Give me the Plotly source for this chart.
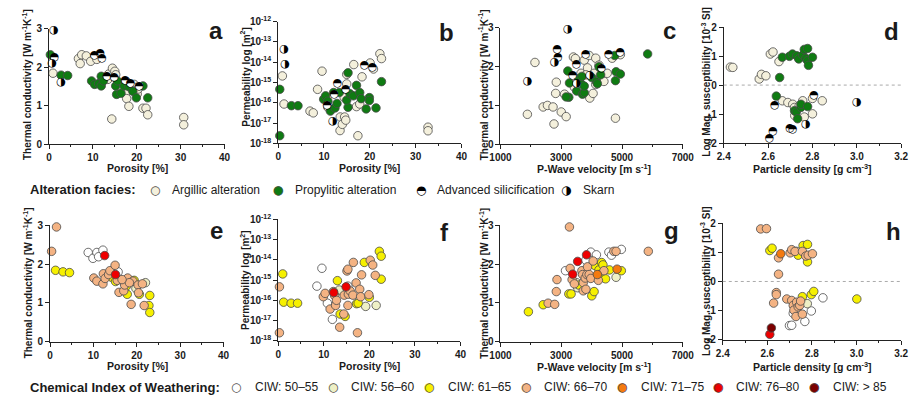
import plotly.graph_objects as go

W, H = 921, 402
FONT = "Liberation Sans, Arial, sans-serif"

# ---------------- data ----------------
# a: Porosity [%] vs thermal conductivity, alteration facies (A argillic, P propylitic, S adv. silicification, K skarn)
a_por = [1.1, 1.27, 0.67, 0.9, 0.3, 2.76, 2.76, 4.25, 6.7, 7.45, 7.1, 8.5, 9.5, 10.4, 10.9, 11.7, 12.1,
         9.7, 10.4, 11.3, 11.9, 11.9, 12.4, 13.2, 13.6, 13.4, 14.3, 14.45, 14.9, 15.0, 15.2, 15.4, 15.6, 15.2,
         16.4, 16.5, 17.1, 17.4, 17.7, 17.4, 17.7, 18.2, 18.2, 18.6, 19.1, 19.4, 19.9, 20.1, 19.9, 20.6, 21.4,
         21.4, 22.1, 22.5, 22.5, 20.3, 30.7, 30.7]
a_tc = [2.97, 2.26, 2.1, 1.85, 2.33, 1.62, 1.8, 1.79, 2.23, 2.33, 2.1, 2.3, 2.16, 2.31, 2.21, 2.38, 2.25,
        1.65, 1.56, 1.58, 1.77, 1.52, 1.65, 1.77, 1.83, 1.69, 0.66, 1.98, 1.75, 1.9, 1.52, 1.3, 1.65, 1.81,
        1.33, 1.48, 1.52, 1.66, 1.63, 1.33, 1.19, 1.5, 0.99, 1.58, 1.38, 1.56, 1.21, 1.31, 1.48, 1.52, 1.52,
        0.94, 0.94, 0.77, 1.21, 1.44, 0.7, 0.51]
a_fac = ['K', 'S', 'K', 'A', 'P', 'K', 'P', 'P', 'A', 'A', 'A', 'A', 'A', 'S', 'A', 'S', 'S',
         'P', 'P', 'P', 'P', 'P', 'P', 'S', 'A', 'A', 'A', 'A', 'S', 'A', 'P', 'P', 'P', 'A',
         'P', 'A', 'P', 'S', 'A', 'A', 'A', 'P', 'A', 'S', 'P', 'A', 'P', 'A', 'A', 'S', 'P',
         'A', 'A', 'A', 'P', 'A', 'A', 'A']

# b: Porosity [%] vs permeability [m2]
b_por = [1.28, 1.49, 0.92, 1.28, 0.35, 0.35, 2.9, 4.33, 6.95, 7.66, 8.6, 9.57, 9.93, 10.35, 10.7, 10.85, 10.85,
         11.4, 11.9, 12.1, 12.27, 12.4, 12.84, 12.98, 13.33, 13.55, 13.5, 14.0, 14.5, 14.4, 14.75, 14.75, 14.96,
         14.96, 15.25, 15.25, 14.96, 15.67, 16.4, 16.5, 17.1, 17.1, 17.4, 17.8, 17.8, 18.1, 18.3, 18.87, 19.2,
         19.9, 19.9, 20.07, 20.6, 20.8, 21.35, 22.2, 22.55, 22.55, 32.7, 32.7]
b_perm = [4.5e-14, 7.6e-15, 2.1e-15, 8.7e-17, 4.6e-16, 2.4e-18, 7.2e-17, 7.2e-17, 3.9e-17, 3.2e-17, 4.6e-16,
          3.6e-15, 1.5e-16, 2.2e-16, 7.8e-17, 6.0e-17, 1.2e-16, 3.9e-17, 1.3e-17, 3.2e-16, 2.6e-16, 5.6e-17,
          9.3e-17, 8.7e-16, 3.2e-16, 2.0e-17, 4.3e-18, 8.7e-18, 2.0e-17, 1.9e-16, 1.4e-17, 4.6e-16, 8.5e-16,
          2.5e-15, 3.0e-15, 6.0e-17, 1.35e-16, 2.8e-16, 2.2e-16, 7.6e-15, 7.2e-16, 6.5e-17, 2.4e-18, 8.7e-17,
          3.2e-16, 1.6e-16, 1.9e-15, 7.1e-15, 5.0e-17, 1.8e-16, 1.3e-16, 9.1e-15, 5.5e-15, 4.6e-15, 5.6e-17,
          2.6e-14, 1.5e-14, 1.1e-15, 6.3e-18, 4.2e-18]
b_fac = ['K', 'K', 'A', 'A', 'P', 'P', 'P', 'P', 'A', 'A', 'A', 'A', 'P', 'P', 'S', 'A', 'P',
         'P', 'K', 'P', 'S', 'P', 'P', 'S', 'P', 'A', 'A', 'A', 'A', 'A', 'A', 'S', 'A',
         'A', 'P', 'P', 'P', 'P', 'P', 'A', 'P', 'A', 'A', 'A', 'P', 'P', 'A', 'S', 'P',
         'P', 'P', 'A', 'S', 'A', 'P', 'A', 'A', 'P', 'A', 'A']

# c: P-wave velocity [m/s] vs thermal conductivity
c_vp = [1890, 1886, 2135, 2405, 2546, 2730, 2762, 2838, 2816, 2870, 2892, 2784, 3216, 3000, 3162, 3108, 3216,
        3270, 3250, 3162, 3400, 3465, 3508, 3378, 3432, 3508, 3508, 3573, 3650, 3650, 3680, 3700, 3757, 3757,
        3757, 3811, 3919, 3865, 3811, 3940, 4005, 3940, 4048, 4135, 4081, 4157, 4189, 4243, 4330, 4243, 4297,
        4405, 4135, 4513, 4568, 4676, 4762, 4946, 4946, 4784, 4784, 4805, 4946, 5843]
c_tc = [1.62, 0.77, 2.11, 0.96, 1.0, 0.96, 0.52, 1.6, 1.31, 2.44, 2.25, 2.12, 2.97, 0.83, 0.71, 1.29, 1.89,
        1.58, 1.21, 1.22, 2.25, 2.21, 2.06, 1.77, 1.47, 1.56, 1.37, 1.69, 1.83, 1.56, 1.75, 1.29, 1.33, 1.5,
        2.17, 2.31, 2.29, 1.97, 1.79, 1.77, 1.72, 1.19, 1.31, 2.22, 1.83, 1.62, 1.56, 2.04, 1.97, 2.0, 1.79,
        1.62, 1.54, 1.83, 2.31, 2.22, 2.29, 2.31, 2.37, 0.67, 1.64, 1.87, 1.81, 2.33]
c_fac = ['K', 'A', 'A', 'A', 'A', 'A', 'A', 'A', 'A', 'S', 'S', 'K', 'K', 'A', 'A', 'A', 'P',
         'P', 'P', 'P', 'A', 'A', 'S', 'S', 'A', 'K', 'P', 'P', 'A', 'P', 'P', 'P', 'P', 'P',
         'A', 'S', 'A', 'A', 'A', 'K', 'P', 'A', 'A', 'A', 'A', 'P', 'P', 'A', 'S', 'P', 'P',
         'A', 'A', 'A', 'S', 'A', 'P', 'A', 'S', 'A', 'P', 'P', 'P', 'P']

# d: particle density [g/cm3] vs log magnetic susceptibility
d_rho = [2.43, 2.441, 2.56, 2.57, 2.59, 2.61, 2.622, 2.649, 2.664, 2.652, 2.696, 2.71, 2.729, 2.738, 2.756,
         2.763, 2.778, 2.77, 2.778, 2.782, 2.8, 2.637, 2.63, 2.664, 2.689, 2.711, 2.719, 2.719, 2.727, 2.733,
         2.748, 2.748, 2.756, 2.763, 2.778, 2.77, 2.8, 2.807, 2.8, 2.844, 3.0, 2.622, 2.607, 2.699, 2.711,
         2.72, 2.74]
d_ms = [0.62, 0.61, 0.21, 0.37, 0.32, 1.07, 1.14, 0.81, 0.96, 0.26, 0.99, 1.07, 1.01, 0.9, 1.03,
        1.23, 1.26, 0.92, 0.84, 0.68, 0.96, -0.38, -0.71, -0.54, -0.6, -0.66, -0.77, -0.88, -0.93, -1.16,
        -0.77, -0.66, -0.54, -1.1, -0.74, -1.34, -0.46, -0.34, -0.99, -0.54, -0.6, -1.6, -1.82, -1.49, -1.52,
        -1.05, -0.72]
d_fac = ['A', 'A', 'A', 'A', 'A', 'A', 'A', 'A', 'P', 'P', 'P', 'P', 'P', 'P', 'P',
         'P', 'P', 'P', 'P', 'P', 'P', 'P', 'S', 'A', 'A', 'A', 'A', 'P', 'P', 'P',
         'P', 'P', 'A', 'A', 'P', 'K', 'A', 'S', 'A', 'A', 'K', 'S', 'S', 'S', 'S',
         'A', 'A']

# e: Porosity vs thermal conductivity, CIW class (1: 50-55 ... 7: >85)
e_por = [0.37, 1.5, 1.27, 3.0, 4.5, 8.8, 9.9, 10.8, 11.2, 12.2, 12.6, 10.1, 10.8, 12.2, 12.3, 12.7, 13.5, 13.8,
         14.2, 15.0, 15.1, 15.7, 15.5, 15.9, 15.1, 17.0, 17.2, 17.9, 17.8, 17.6, 18.7, 19.1, 19.4, 19.8, 20.3,
         20.6, 20.4, 21.3, 22.0, 21.7, 22.8, 23.0, 23.0, 18.3, 16.6]
e_tc = [2.33, 2.96, 1.84, 1.8, 1.78, 2.3, 2.15, 2.3, 2.19, 2.36, 2.22, 1.64, 1.56, 1.49, 1.75, 1.63, 1.73, 1.83,
        1.66, 1.97, 1.73, 1.8, 1.58, 1.27, 1.55, 1.31, 1.46, 1.64, 1.22, 1.43, 0.96, 1.56, 1.58, 1.37, 1.46,
        1.22, 1.26, 1.49, 1.52, 0.93, 0.93, 0.75, 1.19, 1.52, 1.6]
e_ciw = [4, 4, 3, 3, 3, 1, 1, 1, 1, 1, 6, 4, 4, 4, 4, 4, 4, 4,
         3, 4, 6, 1, 4, 4, 3, 4, 4, 4, 3, 3, 4, 4, 3, 2, 4,
         3, 4, 4, 2, 4, 3, 3, 3, 4, 4]

# f: Porosity vs permeability, CIW class
f_por = [0.28, 0.28, 1.0, 1.2, 2.84, 4.26, 8.5, 9.6, 9.9, 10.3, 10.8, 11.4, 11.9, 12.1, 12.2, 12.4, 12.6, 12.8,
         13.0, 13.4, 13.5, 13.6, 14.4, 14.7, 14.5, 14.9, 15.1, 15.3, 15.3, 15.3, 15.4, 15.8, 16.4, 16.5, 17.1,
         17.2, 17.55, 17.4, 17.9, 18.1, 18.3, 18.9, 19.2, 19.9, 20.0, 20.2, 20.75, 21.3, 21.5, 22.2, 22.6, 22.6]
f_perm = [4.6e-16, 2.5e-18, 2.0e-15, 8.1e-17, 7.2e-17, 7.2e-17, 5.0e-16, 3.8e-15, 1.5e-16, 2.2e-16, 7.2e-17,
          3.7e-17, 1.15e-17, 2.7e-16, 2.4e-16, 1.7e-16, 5.6e-17, 1.0e-16, 9.3e-16, 3.2e-16, 4.7e-18, 2.1e-17,
          2.1e-17, 1.6e-17, 1.8e-16, 4.6e-16, 2.8e-15, 3.4e-15, 5.0e-16, 5.6e-17, 2.0e-16, 2.9e-16, 1.8e-16,
          7.4e-15, 7.2e-16, 6.8e-17, 7.2e-17, 2.5e-18, 3.5e-16, 1.5e-16, 1.8e-15, 7.4e-15, 5.0e-17, 1.9e-16,
          1.4e-16, 9.5e-15, 5.5e-15, 1.7e-15, 5.6e-17, 2.6e-14, 1.5e-14, 1.1e-15]
f_ciw = [4, 4, 3, 3, 3, 3, 1, 1, 4, 4, 1, 4, 1, 4, 6, 4, 4, 4,
         3, 2, 4, 3, 4, 3, 4, 6, 4, 4, 1, 4, 4, 4, 4, 4, 4,
         3, 3, 4, 4, 4, 4, 3, 2, 4, 3, 4, 4, 4, 2, 3, 3, 3]

# g: P-wave velocity vs thermal conductivity, CIW class
g_vp = [1919, 3270, 2405, 2568, 2784, 2860, 2838, 3140, 3292, 3250, 3324, 3378, 3540, 3832, 3357, 3432, 3508,
        3540, 3573, 3680, 3703, 3724, 3724, 3811, 3789, 3843, 3865, 3811, 3973, 4005, 4081, 3919, 3973, 4049,
        4113, 4157, 4189, 4222, 4243, 4330, 4373, 4243, 4405, 4459, 4589, 4568, 4654, 4730, 4805, 4978, 4805,
        4838, 4978, 5865]
g_tc = [0.77, 2.96, 0.95, 0.99, 0.96, 1.6, 1.29, 1.83, 1.89, 1.23, 1.23, 1.74, 2.07, 2.24, 1.6, 1.49, 1.52,
        1.39, 1.46, 1.83, 1.73, 1.52, 1.31, 1.35, 1.64, 1.73, 1.93, 2.1, 2.31, 1.18, 1.29, 1.73, 1.63, 2.08,
        1.96, 2.24, 1.73, 1.58, 1.85, 2.04, 1.98, 1.73, 1.83, 1.62, 1.85, 2.31, 2.23, 2.33, 2.33, 2.38, 1.66,
        1.87, 1.83, 2.33]
g_ciw = [3, 4, 3, 4, 4, 4, 4, 1, 4, 3, 3, 6, 6, 6, 4, 4, 2,
         2, 3, 4, 4, 4, 4, 4, 4, 4, 4, 1, 1, 3, 3, 4, 4, 4,
         3, 1, 5, 4, 3, 3, 3, 3, 4, 3, 3, 1, 1, 4, 4, 1, 2,
         5, 3, 4]

# h: particle density vs log magnetic susceptibility, CIW class
h_rho = [2.57, 2.596, 2.611, 2.621, 2.65, 2.66, 2.65, 2.702, 2.709, 2.724, 2.731, 2.738, 2.757, 2.76, 2.78,
         2.772, 2.783, 2.78, 2.802, 2.64, 2.64, 2.628, 2.687, 2.709, 2.716, 2.719, 2.731, 2.738, 2.728, 2.716,
         2.745, 2.749, 2.757, 2.757, 2.779, 2.768, 2.797, 2.808, 2.797, 2.849, 3.001, 2.618, 2.611, 2.699, 2.709]
h_ms = [1.8, 1.81, 1.06, 1.14, 0.81, 0.95, 0.25, 0.98, 1.09, 1.03, 1.03, 0.9, 1.03, 1.23, 1.27,
        0.87, 0.9, 0.67, 0.95, -0.38, -0.45, -0.74, -0.6, -0.65, -0.82, -0.98, -0.71, -0.87, -1.2, -1.09,
        -0.82, -0.67, -0.52, -1.12, -0.76, -1.37, -0.45, -0.34, -1.01, -0.56, -0.6, -1.59, -1.81, -1.51, -1.5]
h_ciw = [4, 4, 3, 3, 4, 5, 4, 4, 4, 4, 2, 3, 4, 3, 3,
         4, 4, 3, 4, 4, 4, 4, 4, 4, 4, 4, 4, 4, 4, 1,
         4, 4, 3, 4, 2, 1, 3, 3, 1, 1, 3, 7, 6, 1, 1]

facies_names = {'A': 'Argillic alteration', 'P': 'Propylitic alteration',
                'S': 'Advanced silicification', 'K': 'Skarn'}
facies_order = ['A', 'P', 'S', 'K']
ciw_labels = ['CIW: 50\u201355', 'CIW: 56\u201360', 'CIW: 61\u201365', 'CIW: 66\u201370',
              'CIW: 71\u201375', 'CIW: 76\u201380', 'CIW: > 85']
ciw_colors = ['#ffffff', '#eef0c6', '#f6f000', '#f4b383', '#f47a10', '#ee0000', '#7c0000']
ARG_COLOR = '#f4f0dc'
PROP_COLOR = '#0f7b12'
EDGE = '#4a4a4a'
HALF_GLYPH = {'S': '\u25D3', 'K': '\u25D1'}
MS = 8.5

fig = go.Figure()


def px_x(l, r):
    return [l / W, r / W]


def px_y(top, bottom):
    return [1 - bottom / H, 1 - top / H]


def add_facies(n, xs, ys, fac):
    ax = dict(xaxis='x' if n == 1 else f'x{n}', yaxis='y' if n == 1 else f'y{n}')
    for code in facies_order:
        xx = [x for x, f in zip(xs, fac) if f == code]
        yy = [y for y, f in zip(ys, fac) if f == code]
        if not xx:
            continue
        if code in ('A', 'P'):
            fig.add_trace(go.Scatter(x=xx, y=yy, mode='markers', showlegend=False, cliponaxis=False,
                                     name=facies_names[code],
                                     marker=dict(size=MS, color=ARG_COLOR if code == 'A' else PROP_COLOR,
                                                 line=dict(width=0.8, color=EDGE)), **ax))
        else:
            fig.add_trace(go.Scatter(x=xx, y=yy, mode='markers', showlegend=False, cliponaxis=False,
                                     marker=dict(size=MS - 1, color='white', line=dict(width=0)), **ax))
            fig.add_trace(go.Scatter(x=xx, y=yy, mode='text', showlegend=False, cliponaxis=False,
                                     name=facies_names[code],
                                     text=[HALF_GLYPH[code]] * len(xx), textposition='middle center',
                                     textfont=dict(family='DejaVu Sans', size=11, color='black'), **ax))


def add_ciw(n, xs, ys, cls):
    ax = dict(xaxis=f'x{n}', yaxis=f'y{n}')
    for k in range(1, 8):
        xx = [x for x, c in zip(xs, cls) if c == k]
        yy = [y for y, c in zip(ys, cls) if c == k]
        if not xx:
            continue
        fig.add_trace(go.Scatter(x=xx, y=yy, mode='markers', showlegend=False, cliponaxis=False,
                                 name=ciw_labels[k - 1],
                                 marker=dict(size=MS, color=ciw_colors[k - 1],
                                             line=dict(width=0.8, color=EDGE)), **ax))


add_facies(1, a_por, a_tc, a_fac)
add_facies(2, b_por, b_perm, b_fac)
add_facies(3, c_vp, c_tc, c_fac)
add_facies(4, d_rho, d_ms, d_fac)
add_ciw(5, e_por, e_tc, e_ciw)
add_ciw(6, f_por, f_perm, f_ciw)
add_ciw(7, g_vp, g_tc, g_ciw)
add_ciw(8, h_rho, h_ms, h_ciw)

tickfont = dict(family=FONT, size=10, color='#1a1a1a', weight='bold')
base = dict(showline=True, linecolor='#222', linewidth=1, ticks='outside', ticklen=4, tickwidth=1,
            tickcolor='#222', showgrid=False, zeroline=False, tickfont=tickfont, mirror=False)
minor = dict(ticks='outside', ticklen=2, tickwidth=1, tickcolor='#222', showgrid=False)

log_vals = [1e-18, 1e-17, 1e-16, 1e-15, 1e-14, 1e-13, 1e-12]
log_text = ['10<sup>-18</sup>', '10<sup>-17</sup>', '10<sup>-16</sup>', '10<sup>-15</sup>',
            '10<sup>-14</sup>', '10<sup>-13</sup>', '10<sup>-12</sup>']

panels = [
    # n, xdom(px), ydom(px top,bottom), xrange, yrange, kind
    (1, (39, 219), (22.7, 142), [0, 40], [0, 3], 'por', 'tc'),
    (2, (274, 462), (15, 141), [0, 40], [-18, -12], 'por', 'log'),
    (3, (502, 689), (21.7, 141.7), [1000, 7000], [0, 3], 'vp', 'tc'),
    (4, (731, 913), (20.7, 140.7), [2.4, 3.2], [-2, 2], 'rho', 'ms'),
    (5, (40, 218), (225.7, 345.7), [0, 40], [0, 3], 'por', 'tc'),
    (6, (274, 461), (219.3, 345), [0, 40], [-18, -12], 'por', 'log'),
    (7, (502, 689), (225.7, 345.7), [1000, 7000], [0, 3], 'vp', 'tc'),
    (8, (730, 913), (223.3, 344), [2.4, 3.2], [-2, 2], 'rho', 'ms'),
]

layout = dict(width=W, height=H, margin=dict(l=0, r=0, t=0, b=0), plot_bgcolor='white',
              paper_bgcolor='white', showlegend=False)
shapes = []
for n, xd, yd, xr, yr, xk, yk in panels:
    xa = dict(base, domain=px_x(*xd), range=xr, anchor=f'y{n}' if n > 1 else 'y')
    ya = dict(base, domain=px_y(*yd), range=yr, anchor=f'x{n}' if n > 1 else 'x')
    if xk == 'por':
        xa.update(tick0=0, dtick=10, minor=dict(minor, dtick=5))
    elif xk == 'vp':
        xa.update(tick0=1000, dtick=2000, minor=dict(minor, dtick=1000))
    else:
        xa.update(tickvals=[2.4, 2.6, 2.8, 3.0, 3.2], ticktext=['2.4', '2.6', '2.8', '3.0', '3.2'],
                  minor=dict(minor, tickvals=[2.5, 2.7, 2.9, 3.1]))
    if yk == 'tc':
        ya.update(tickvals=[0, 1, 2, 3])
    elif yk == 'log':
        ya.update(type='log', tickvals=log_vals, ticktext=log_text)
    else:
        ya.update(tickvals=[-2, -1, 0, 1, 2], ticktext=['-2', '-1', '0', '1', '2'])
        shapes.append(dict(type='line', xref=f'x{n} domain', x0=0, x1=1, yref=f'y{n}', y0=0, y1=0,
                           line=dict(color='#aaaaaa', width=1, dash='dot')))
    layout['xaxis' if n == 1 else f'xaxis{n}'] = xa
    layout['yaxis' if n == 1 else f'yaxis{n}'] = ya
layout['shapes'] = shapes

ann = []


def text(x, y, s, size=10, bold=True, angle=0, xanchor='center', color='#1a1a1a', family=FONT):
    ann.append(dict(x=x / W, y=1 - y / H, xref='paper', yref='paper', text=s, showarrow=False,
                    textangle=angle, xanchor=xanchor, yanchor='middle',
                    font=dict(family=family, size=size, color=color, weight='bold' if bold else 'normal')))


TC = 'Thermal conductivity [W m<sup>-1</sup>K<sup>-1</sup>]'
PERM = 'Permeability log [m<sup>2</sup>]'
MSUS = 'Log Mag. susceptibility [10<sup>-3</sup> SI]'
# y titles
for (x, y, s) in [(17, 80, TC), (240, 72, PERM), (485, 80, TC), (712, 77, MSUS),
                  (17, 285, TC), (240, 282, PERM), (485, 285, TC), (712, 283, MSUS)]:
    text(x, y, s, size=10, angle=-90)
# x titles
for (x, y, s) in [(130, 166, 'Porosity [%]'), (368, 166, 'Porosity [%]'),
                  (598, 167, 'P-Wave velocity [m s<sup>-1</sup>]'), (822, 167, 'Particle density [g cm<sup>-3</sup>]'),
                  (130, 371, 'Porosity [%]'), (368, 371, 'Porosity [%]'),
                  (598, 371, 'P-Wave velocity [m s<sup>-1</sup>]'), (822, 371, 'Particle density [g cm<sup>-3</sup>]')]:
    text(x, y, s, size=10.5)
# panel letters
for (x, y, s) in [(210, 24, 'a'), (447, 26, 'b'), (675, 24, 'c'), (903, 25, 'd'),
                  (211, 231, 'e'), (445, 233, 'f'), (677, 231, 'g'), (905, 232, 'h')]:
    text(x, y, s, size=24)

# legend row 1
LY1 = 189
text(17, LY1, 'Alteration facies:', size=13, xanchor='left')
leg1 = [(148, 'A'), (274, 'P'), (420, 'S'), (570, 'K')]
for x, code in leg1:
    if code == 'A':
        text(x, LY1, '\u25CF', size=12, bold=False, color=ARG_COLOR, family='DejaVu Sans')
        text(x, LY1, '\u25CB', size=12, bold=False, color=EDGE, family='DejaVu Sans')
    elif code == 'P':
        text(x, LY1, '\u25CF', size=12, bold=False, color=PROP_COLOR, family='DejaVu Sans')
        text(x, LY1, '\u25CB', size=12, bold=False, color=EDGE, family='DejaVu Sans')
    else:
        text(x, LY1, HALF_GLYPH[code], size=12, bold=False, color='black', family='DejaVu Sans')
    text(x + 15, LY1, facies_names[code], size=12, bold=False, xanchor='left')

# legend row 2
LY2 = 393
text(17, LY2, 'Chemical Index of Weathering:', size=13, xanchor='left')
leg2_x = [231, 330, 429, 528, 627, 725, 824]
for i, x in enumerate(leg2_x):
    text(x, LY2, '\u25CF', size=12, bold=False, color=ciw_colors[i], family='DejaVu Sans')
    text(x, LY2, '\u25CB', size=12, bold=False, color=EDGE, family='DejaVu Sans')
    text(x + 17, LY2, ciw_labels[i], size=12, bold=False, xanchor='left')

layout['annotations'] = ann
fig.update_layout(**layout)
fig.write_html("out.html", config={'displayModeBar': False},
               post_script="document.body.style.margin='0px';")
